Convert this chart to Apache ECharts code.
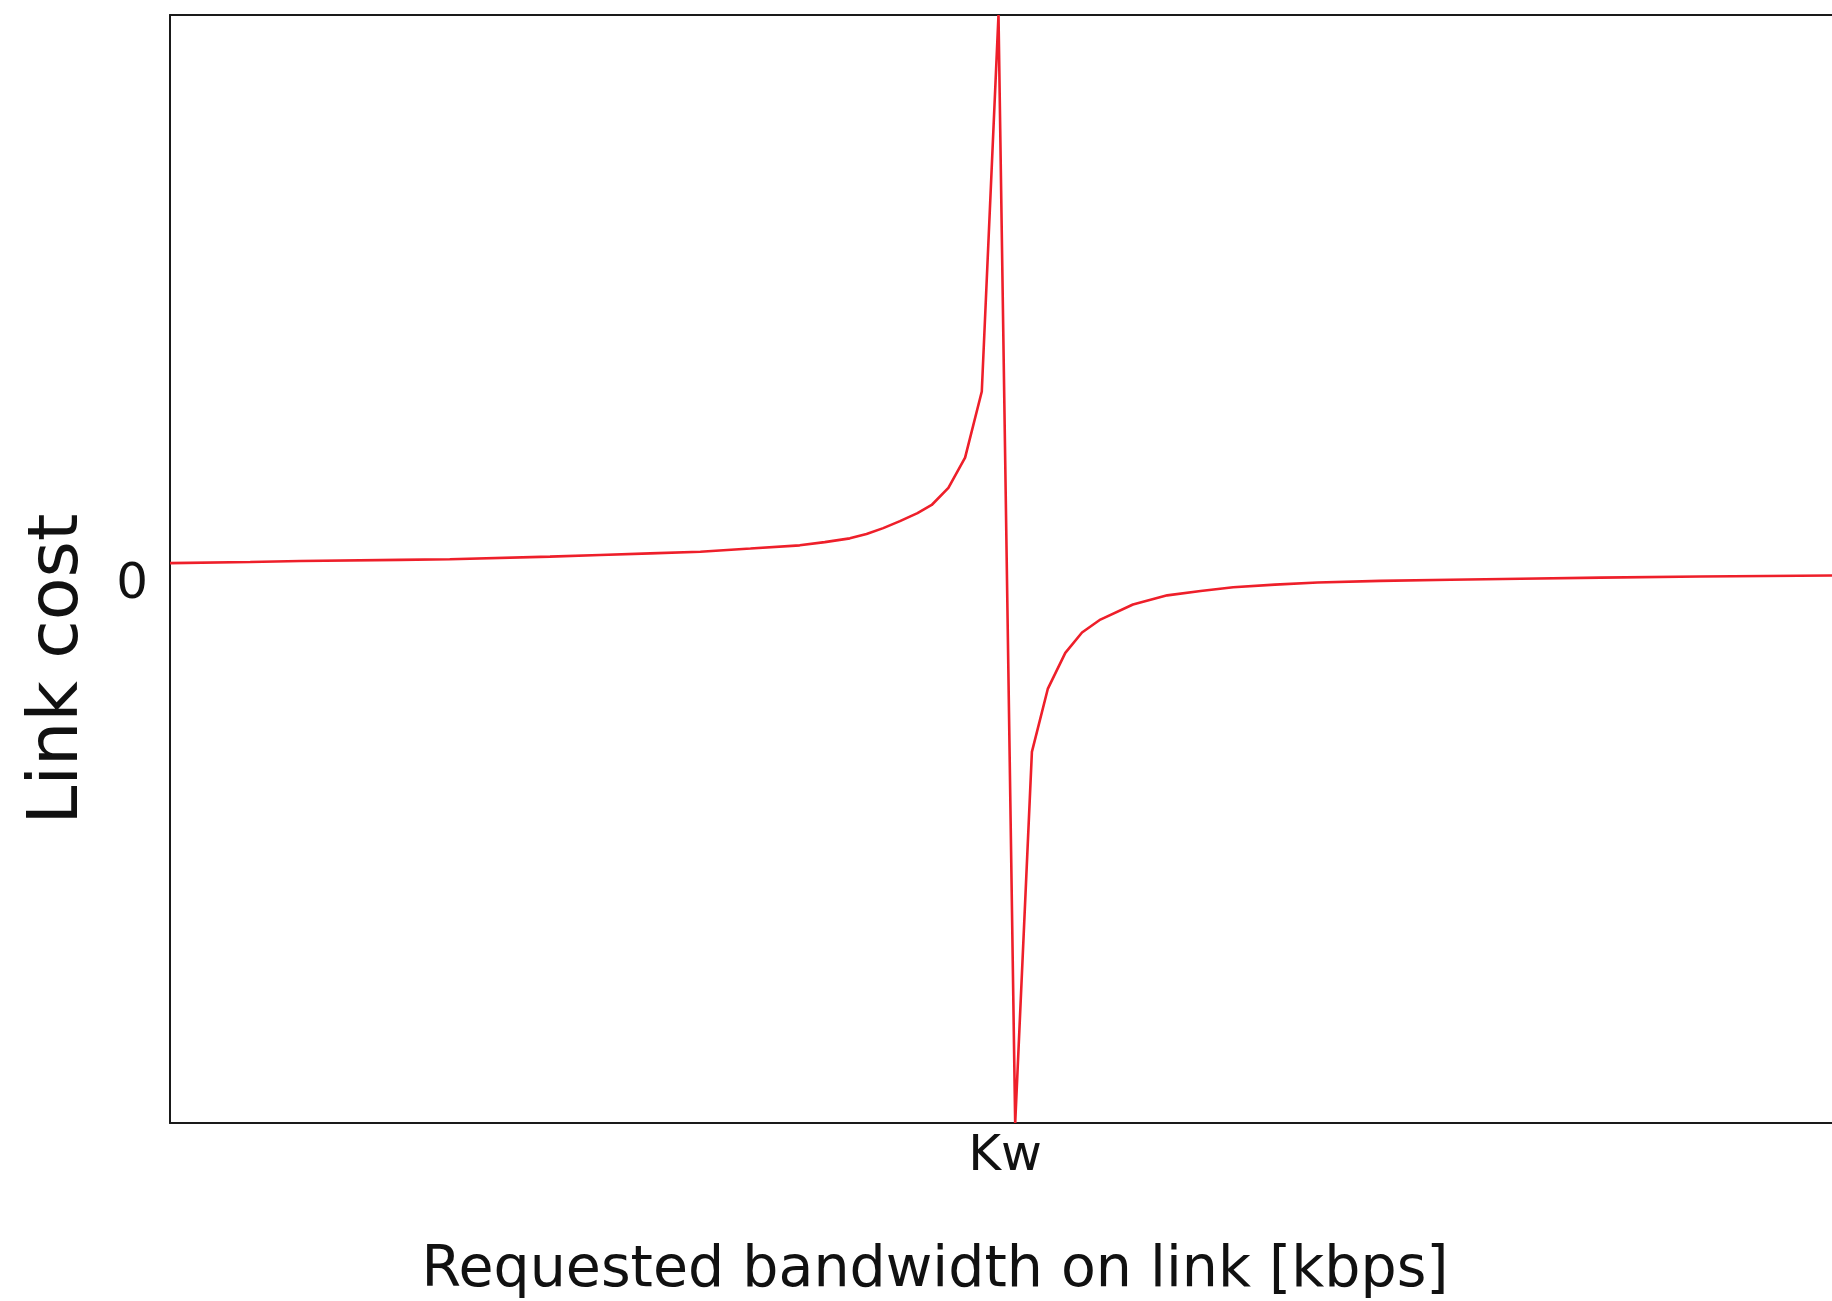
<!DOCTYPE html>
<html>
<head>
<meta charset="utf-8">
<script src="https://cdn.jsdelivr.net/npm/echarts@6/dist/echarts.min.js"></script>
<style>
  html, body { margin: 0; padding: 0; background: #fff; overflow: hidden; }
  #chart { width: 1832px; height: 1301px; }
</style>
</head>
<body>
<div id="chart"></div>
<script>
// Requested bandwidth (arbitrary units, Kw at 100) and link cost (arbitrary units)
const bandwidth = [0, 9.6, 15.6, 27.5, 33.5, 45.5, 51.5, 57.5, 63.5, 69.5, 75.4, 78.4, 81.4, 83.4, 85.4, 87.4,
                   89.5, 91.2, 93.2, 95.2, 97.2, 99.2,
                   101.2, 103.2, 105.1, 107.2, 109.2, 111.4, 115.3, 119.4, 123.4, 127.3, 132.3, 137.4,
                   144.9, 153.3, 161.7, 171.3, 183.2, 199];
const linkCost  = [4.1, 4.3, 4.5, 4.7, 4.8, 5.3, 5.6, 5.9, 6.2, 6.8, 7.4, 8.0, 8.7, 9.5, 10.6, 11.9,
                   13.4, 14.9, 18.1, 23.7, 36.0, 106,
                   -100, -31.0, -19.3, -12.6, -8.8, -6.4, -3.6, -1.9, -1.1, -0.4, 0.1, 0.5,
                   0.8, 1.0, 1.2, 1.4, 1.6, 1.8];
const xTickValues = [100];
const xTickLabels = ['Kw'];
const yTickValues = [0];
const yTickLabels = ['0'];
const xTitle = 'Requested bandwidth on link [kbps]';
const yTitle = 'Link cost';

const chart = echarts.init(document.getElementById('chart'), null, { renderer: 'canvas' });
const font = 'DejaVu Sans';
const spine = { show: true, onZero: false, lineStyle: { color: '#1a1a1a', width: 2 } };
chart.setOption({
  animation: false,
  backgroundColor: '#ffffff',
  grid: { left: 170, top: 15, right: 0, bottom: 178, show: false, containLabel: false, outerBoundsMode: 'none' },
  xAxis: [{
    type: 'value', min: 0, max: 199, interval: 100, position: 'bottom',
    splitLine: { show: false }, axisTick: { show: false }, axisLine: spine,
    axisLabel: {
      fontFamily: font, fontSize: 50, color: '#111', margin: 9,
      formatter: v => { const i = xTickValues.indexOf(v); return i >= 0 ? xTickLabels[i] : ''; }
    },
    name: xTitle, nameLocation: 'middle', nameGap: 120,
    nameTextStyle: { fontFamily: font, fontSize: 57, color: '#111', padding: [0, 132, 0, 0] }
  }, {
    type: 'value', min: 0, max: 199, position: 'top',
    splitLine: { show: false }, axisTick: { show: false }, axisLabel: { show: false }, axisLine: spine
  }],
  yAxis: {
    type: 'value', min: -100, max: 106, interval: 100,
    splitLine: { show: false }, axisTick: { show: false }, axisLine: spine,
    axisLabel: {
      fontFamily: font, fontSize: 50, color: '#111', margin: 22,
      formatter: v => { const i = yTickValues.indexOf(v); return i >= 0 ? yTickLabels[i] : ''; }
    },
    name: yTitle, nameLocation: 'middle', nameGap: 76, nameRotate: 90,
    nameTextStyle: { fontFamily: font, fontSize: 70, color: '#111', padding: [0, 200, 0, 0] }
  },
  series: [{
    type: 'line', xAxisIndex: 0,
    data: bandwidth.map((x, i) => [x, linkCost[i]]),
    showSymbol: false, symbol: 'none', smooth: false, clip: true,
    lineStyle: { color: '#ee1f2a', width: 2.6 }
  }]
});
</script>
</body>
</html>
